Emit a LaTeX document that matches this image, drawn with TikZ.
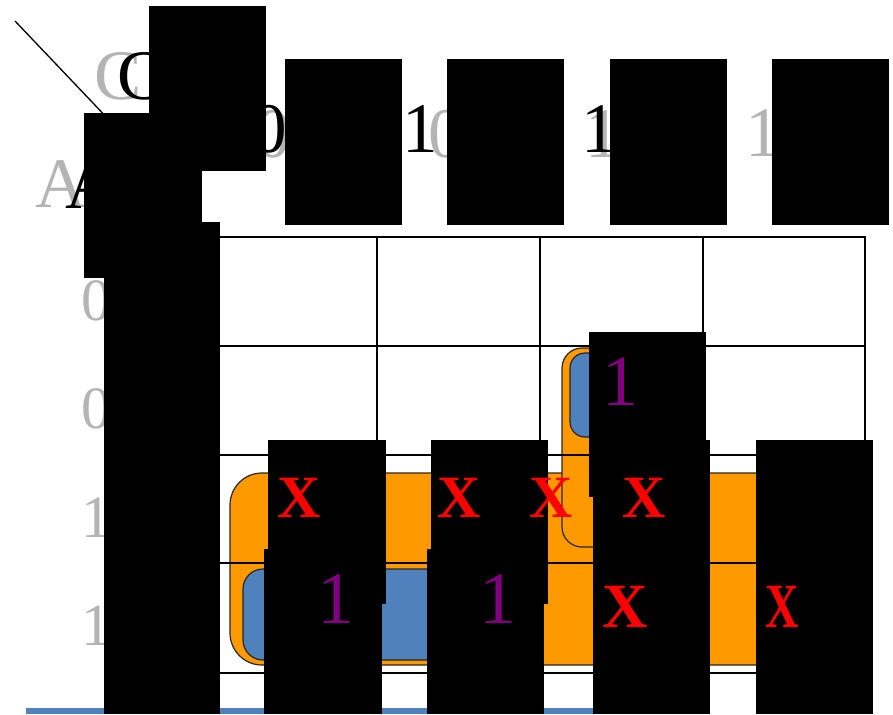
\documentclass[tikz,border=0pt]{standalone}
\usepackage{fontspec}
\setmainfont{Liberation Serif}
\usepackage{graphicx}
\definecolor{kmorange}{RGB}{255,153,0}
\definecolor{kmblue}{RGB}{79,129,189}
\definecolor{kmpurple}{RGB}{128,0,128}
\definecolor{kmred}{RGB}{255,0,0}
\definecolor{kmgray}{RGB}{180,180,180}
\tikzset{
	kmlabel/.style={inner sep=0pt, anchor=base, font=\fontsize{71}{71}\selectfont},
	kmshadow/.style={kmlabel, text=kmgray},
	kmgroup/.style={draw=black!85, line width=1.2pt, rounded corners=#1},
	kmline/.style={line width=1.8pt},
	redx/.style={inner sep=0pt, anchor=base, text=kmred, font=\bfseries\fontsize{60}{60}\selectfont},
	one/.style={inner sep=0pt, anchor=base, text=kmpurple, font=\fontsize{72}{72}\selectfont}
}
\begin{document}
\begin{tikzpicture}[x=1pt, y=-1pt]
	\useasboundingbox (0,0) rectangle (893,714);
	% corner line and variable names
	\coordinate (cornerA) at (15,21);
	\coordinate (cornerB) at (112,123);
	\draw [line width=1.3pt] (cornerA) -- (cornerB);
	\node [kmshadow] (cshadow) at (118.5,100) {C};
	\node [kmlabel] (cname) at (141.5,100) {C};
	\node [kmshadow] (ashadow) at (61,207) {A};
	\node [kmlabel] (aname) at (91.5,208) {A};
	% column heads
	\node [kmshadow] (h1s) at (273,158) {0};
	\node [kmlabel] (h1) at (269,153) {0};
	\node [kmshadow] (h2s) at (446,158) {0};
	\node [kmlabel] (h2) at (420,153) {1};
	\node [kmshadow] (h3s) at (603,158) {1};
	\node [kmlabel] (h3) at (599,153) {1};
	\node [kmshadow] (h4s) at (763.5,157) {1};
	% row heads
	\foreach \y/\t [count=\i] in {320/0,428/0,537/1,645/1}
		\node [kmshadow, font=\fontsize{60}{60}\selectfont] (r\i) at (96.5,\y) {\t};
	\fill [kmblue] (26,708) rectangle (600,714);
	% groups
	\filldraw [kmgroup=32pt, fill=kmorange] (230,473) rectangle (855,665);
	\filldraw [kmgroup=20pt, fill=kmblue] (243,569) rectangle (528,660);
	\filldraw [kmgroup=20pt, fill=kmorange] (562,348) rectangle (690,547);
	\filldraw [kmgroup=15pt, fill=kmblue] (570,353) rectangle (682,437);
	% map grid
	\draw [kmline] (219,237) rectangle (865,673);
	\foreach \x in {377,540,703} \draw [kmline] (\x,237) -- (\x,673);
	\foreach \y in {346,455,563} \draw [kmline] (219,\y) -- (865,\y);
	% black boxes
	\foreach \xa/\ya/\xb/\yb in {149/6/266/171, 84/113/202/278, 104/222/220/714,
		285/59/402/225, 447/59/564/225, 610/59/727/225, 772/59/889/225,
		589/332/706/497, 268/440/386/604, 431/440/548/604, 593/440/710/714,
		756/440/873/714, 264/549/382/714, 427/549/544/714}
		\fill (\xa,\ya) rectangle (\xb,\yb);
	% cell values
	\node [one] (m6) at (620,405) {1};
	\node [redx] (x12) at (299,517) {X};
	\node [redx] (x13) at (459.5,517) {X};
	\node [redx] (x14) at (551,517) {X};
	\node [redx] (x15) at (644,517) {X};
	\node [one, font=\fontsize{74}{74}\selectfont] (m8) at (335.5,623) {1};
	\node [one, font=\fontsize{74}{74}\selectfont] (m9) at (497.5,623) {1};
	\node [redx, font=\bfseries\fontsize{63}{63}\selectfont] (x11) at (625,627) {X};
	\node [redx, font=\bfseries\fontsize{63}{63}\selectfont] (x10) at (782.5,627) {\scalebox{0.74}[1]{X}};
\end{tikzpicture}
\end{document}
